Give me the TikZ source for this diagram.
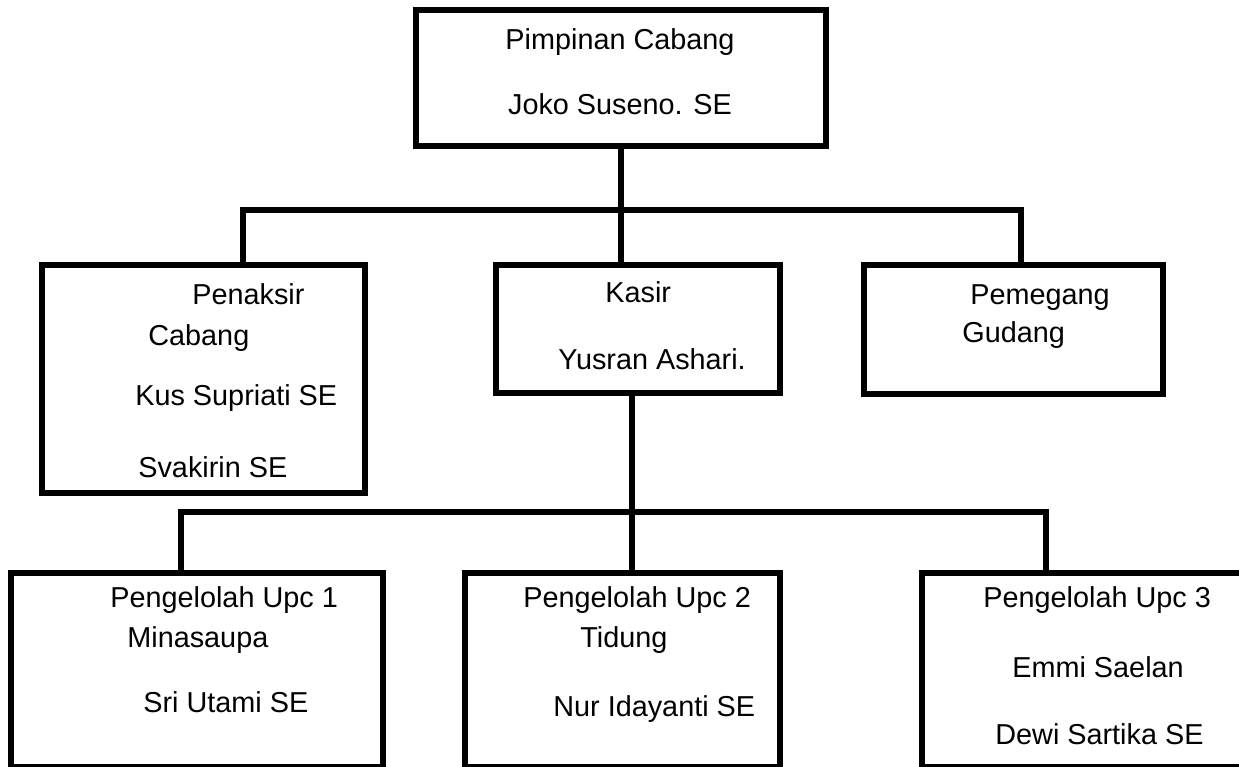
\documentclass[tikz,border=0pt]{standalone}
\usepackage{fontspec}
\setmainfont{Liberation Sans}
\usepackage{tikz}

\begin{document}
\begin{tikzpicture}
\tikzset{box/.style = {shape=rectangle,draw,line width=3.7pt,inner sep=0pt}}
\tikzset{label/.style = {inner sep=0pt,anchor=base west,font=\fontsize{16.4}{19.5}\selectfont}}
\tikzset{line/.style = {line width=3.7pt}}
\useasboundingbox (0,0) rectangle (24.78,15.34);
% boxes

\node[box,minimum width=8.2cm,minimum height=2.72cm] (pimpinan) at (12.42,13.78) {};
\node[box,minimum width=6.46cm,minimum height=4.56cm] (penaksir) at (4.07,7.76) {};
\node[box,minimum width=5.68cm,minimum height=2.56cm] (kasir) at (12.76,8.76) {};
\node[box,minimum width=5.98cm,minimum height=2.58cm] (gudang) at (20.27,8.75) {};
\node[box,minimum width=7.44cm,minimum height=3.88cm] (upc1) at (3.94,1.94) {};
\node[box,minimum width=6.30cm,minimum height=3.88cm] (upc2) at (12.45,1.94) {};
\node[box,minimum width=6.46cm,minimum height=3.88cm] (upc3) at (21.67,1.94) {};

% texts
\node[label,anchor=base] (t1) at (12.40,14.34) {Pimpinan Cabang};
\node[label,anchor=base] (t2) at (12.40,13.04) {Joko Suseno. SE};
\node[label] (t3) at (3.84,9.24) {Penaksir};
\node[label] (t4) at (2.96,8.42) {Cabang};
\node[label] (t5) at (2.70,7.22) {Kus Supriati SE};
\node[label] (t6) at (2.76,5.78) {Svakirin SE};
\node[label] (t7) at (12.10,9.28) {Kasir};
\node[label] (t8) at (11.16,7.94) {Yusran Ashari.};
\node[label] (t9) at (19.40,9.24) {Pemegang};
\node[label] (t10) at (19.24,8.48) {Gudang};
\node[label] (t11) at (2.20,3.18) {Pengelolah Upc 1};
\node[label] (t12) at (2.54,2.38) {Minasaupa};
\node[label] (t13) at (2.86,1.08) {Sri Utami SE};
\node[label] (t14) at (10.46,3.18) {Pengelolah Upc 2};
\node[label] (t15) at (11.60,2.38) {Tidung};
\node[label] (t16) at (11.06,1.00) {Nur Idayanti SE};
\node[label] (t17) at (19.66,3.18) {Pengelolah Upc 3};
\node[label] (t18) at (20.24,1.78) {Emmi Saelan};
\node[label] (t19) at (19.90,0.44) {Dewi Sartika SE};

% bus ends
\coordinate (a1) at (4.86,11.14);
\coordinate (a2) at (20.42,11.14);
\coordinate (b0) at (12.64,5.10);
\coordinate (b1) at (3.62,5.10);
\coordinate (b2) at (20.92,5.10);

%edges
\draw[line] (pimpinan.south) to (pimpinan.south |- kasir.north);
\draw[line] (a1 |- penaksir.north) to (a1) to (a2) to (a2 |- gudang.north);
\draw[line] (b0 |- kasir.south) to (b0 |- upc2.north);
\draw[line] (b1 |- upc1.north) to (b1) to (b2) to (b2 |- upc3.north);

\end{tikzpicture}
\end{document}
